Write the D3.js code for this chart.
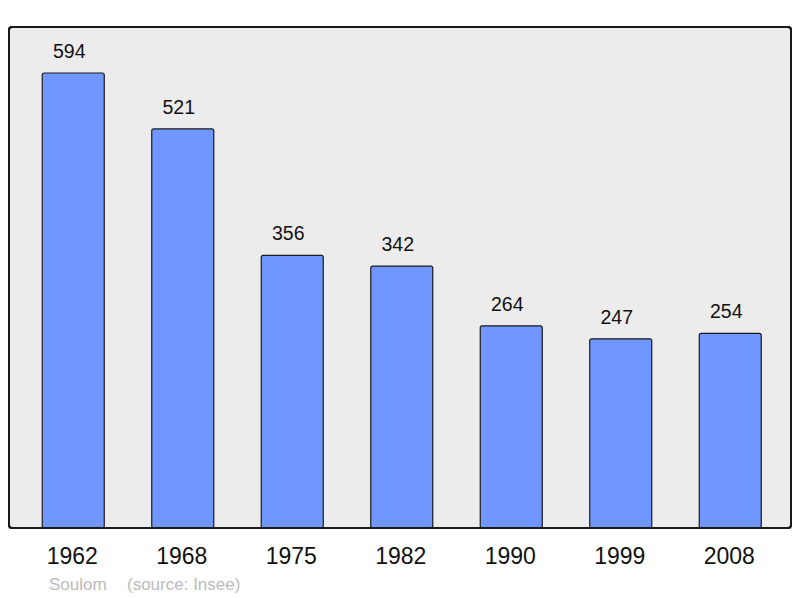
<!DOCTYPE html>
<html><head><meta charset="utf-8">
<script src="https://cdn.jsdelivr.net/npm/d3@7"></script>
<style>body{margin:0;background:#fff}svg{display:block}</style>
</head><body><svg id="c" width="800" height="598"></svg>
<script>
const years = ["1962","1968","1975","1982","1990","1999","2008"];
const population = [594,521,356,342,264,247,254];
const townName = "Soulom";
const sourceText = "(source: Insee)";

const svg = d3.select("#c");
const font = "'Liberation Sans', Arial, sans-serif";
const frame = {x0: 9, y0: 27, x1: 791, y1: 528};

svg.append("rect").attr("x", frame.x0).attr("y", frame.y0)
  .attr("width", frame.x1 - frame.x0).attr("height", frame.y1 - frame.y0)
  .attr("rx", 3).attr("fill", "#ececec").attr("stroke", "#1a1a1a").attr("stroke-width", 2);

const x = d3.scaleBand().domain(years).range([18.5, 785]).padding(0);
const y = d3.scaleLinear().domain([0, 594]).range([frame.y1, 73]);
const bw = 62;

const g = svg.append("g");
g.selectAll("rect.bar").data(years).join("rect").attr("class","bar")
  .attr("x", d => x(d) + (x.bandwidth() - bw) / 2)
  .attr("y", (d,i) => y(population[i]))
  .attr("width", bw)
  .attr("height", (d,i) => y(0) - y(population[i]))
  .attr("rx", 2)
  .attr("fill", "#7096ff").attr("stroke", "#1a1a1a").attr("stroke-width", 1.2);

g.selectAll("text.val").data(years).join("text").attr("class","val")
  .attr("x", d => x(d) + x.bandwidth() / 2 - 4)
  .attr("y", (d,i) => y(population[i]) - 15)
  .attr("text-anchor", "middle").attr("font-family", font).attr("font-size", 19.5)
  .attr("fill", "#111").text((d,i) => population[i]);

svg.append("rect").attr("x", frame.x0).attr("y", frame.y0)
  .attr("width", frame.x1 - frame.x0).attr("height", frame.y1 - frame.y0)
  .attr("rx", 3).attr("fill", "none").attr("stroke", "#1a1a1a").attr("stroke-width", 2);

const xAxis = d3.axisBottom(x).tickSize(0).tickPadding(0);
const ax = svg.append("g").attr("transform", `translate(-1,${frame.y1})`).call(xAxis);
ax.select(".domain").remove();
ax.selectAll("text").attr("font-family", font).attr("font-size", 23)
  .attr("fill", "#111").attr("dy", null).attr("y", 36);

svg.append("text").attr("x", 49).attr("y", 590).attr("font-family", font)
  .attr("font-size", 17).attr("fill", "#bbbbbb").text(townName);
svg.append("text").attr("x", 127).attr("y", 590).attr("font-family", font)
  .attr("font-size", 17).attr("fill", "#bbbbbb").text(sourceText);
</script></body></html>
